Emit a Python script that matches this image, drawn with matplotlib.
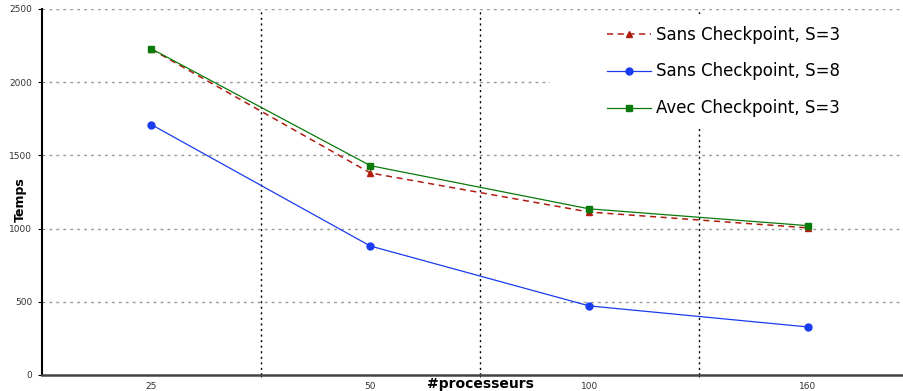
import matplotlib.pyplot as plt
from matplotlib.patches import Rectangle

processeurs = ["25", "50", "100", "160"]
sans_s3 = [2225, 1380, 1113, 1005]
sans_s8 = [1710, 881, 472, 328]
avec_s3 = [2228, 1430, 1135, 1020]

W, H = 904, 391
fig = plt.figure(figsize=(W / 100, H / 100), dpi=100)
ax = fig.add_axes([42 / W, 16 / H, 875.5 / W, 366 / H])

x = list(range(len(processeurs)))
ax.plot(x, sans_s3, color="#b01c10", linestyle=(0, (4, 3)), linewidth=1.1,
        marker="^", markersize=5, label="Sans Checkpoint, S=3", zorder=3)
ax.plot(x, sans_s8, color="#1a3cf0", linewidth=0.9,
        marker="o", markersize=5, label="Sans Checkpoint, S=8", zorder=3)
ax.plot(x, avec_s3, color="#0a7a0a", linewidth=0.9,
        marker="s", markersize=4.5, label="Avec Checkpoint, S=3", zorder=4)

ax.set_xlim(-0.5, len(processeurs) - 0.5)
ax.set_ylim(0, 2500)

# labels sit on the categories, ticks and grid on the boundaries
ax.set_xticks([i + 0.5 for i in x[:-1]])
ax.set_xticklabels([])
ax.set_xticks(x, minor=True)
ax.set_xticklabels(processeurs, minor=True)
ax.tick_params(axis="x", which="minor", length=0, labelsize=6.5,
               labelcolor="#333333", pad=5)
ax.tick_params(axis="x", which="major", length=3, direction="inout",
               color="black")
ax.set_yticks(range(0, 2501, 500))
ax.tick_params(axis="y", length=3, labelsize=6.5, labelcolor="#333333", pad=4)

ax.set_axisbelow(True)
ax.yaxis.grid(True, color="#999999", linestyle=(0, (2, 3)), linewidth=1.0)
ax.xaxis.grid(True, color="black", linestyle=(0, (1.5, 2.5)), linewidth=1.0)

for side in ("top", "right"):
    ax.spines[side].set_visible(False)
ax.spines["left"].set_linewidth(1.5)
ax.spines["bottom"].set_linewidth(1.8)
ax.spines["bottom"].set_color("#444444")

# white block behind the legend
ax.add_patch(Rectangle((508 / 875.5, (375 - 126) / 366),
                       1.0, 112 / 366, transform=ax.transAxes,
                       facecolor="white", edgecolor="none", zorder=1.5))

leg = ax.legend(loc="upper left", bbox_to_anchor=(600 / W, 1 - 19 / H),
                bbox_transform=fig.transFigure, frameon=False, fontsize=12,
                handlelength=2.65, handletextpad=0.3, labelspacing=1.13,
                borderaxespad=0)

fig.text(480 / W, 0 / H, "#processeurs", ha="center", va="bottom",
         fontsize=10, fontweight="bold")
fig.text(20 / W, 191 / H, "Temps", ha="center", va="center",
         rotation=90, fontsize=9, fontweight="bold")

fig.savefig("out.png", dpi=100)
